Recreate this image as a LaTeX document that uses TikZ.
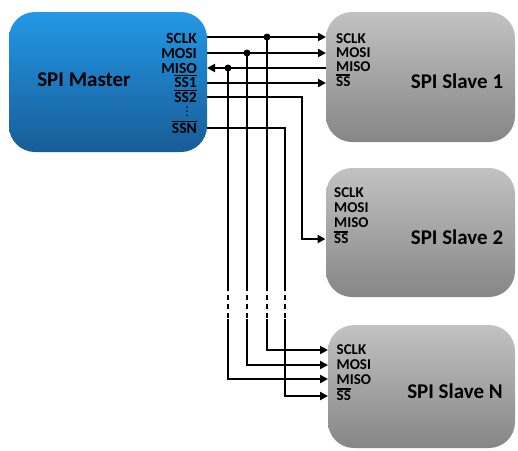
\documentclass[tikz,border=0pt]{standalone}
\usepackage{fontspec}
\setmainfont{Carlito}
\newfontfamily\dejavu{DejaVu Sans}
\usetikzlibrary{arrows.meta}
\definecolor{mtop}{RGB}{35,152,230}
\definecolor{mbot}{RGB}{24,92,150}
\definecolor{stop}{RGB}{194,194,194}
\definecolor{sbot}{RGB}{134,134,134}
\newcommand\ovl[1]{\leavevmode\vbox{\hrule height 1.2pt\kern 1.1pt\hbox{#1}}}
\tikzset{
  master/.style={draw=none,top color=mtop,bottom color=mbot,rounded corners=26pt,inner sep=0pt},
  slave/.style={draw=none,top color=stop,bottom color=sbot,rounded corners=26pt,inner sep=0pt},
  title/.style={font=\fontsize{21}{21}\selectfont\bfseries,inner sep=0pt},
  mpin/.style={anchor=east,font=\fontsize{15.5}{15.5}\selectfont\bfseries,inner sep=0pt},
  spin/.style={anchor=west,font=\fontsize{15}{15}\selectfont\bfseries,inner sep=0pt},
  wire/.style={line width=2pt},
  sig/.style={wire,-{Triangle[length=8pt,width=8pt]}},
  brk/.style={wire,dash pattern=on 5pt off 4pt},
  junc/.style={circle,fill=black,inner sep=0pt,minimum size=7pt}
}
\begin{document}
\begin{tikzpicture}[x=1pt,y=-1pt]
\useasboundingbox (0,0) rectangle (518,450);
% boxes
\node[master,minimum width=198pt,minimum height=140pt] (M) at (108,82) {};
\node[slave,minimum width=189pt,minimum height=130pt] (S1) at (420.5,77) {};
\node[slave,minimum width=189pt,minimum height=129pt] (S2) at (420.5,232.5) {};
\node[slave,minimum width=187pt,minimum height=123pt] (SN) at (421.5,386.5) {};
\node[title] (tM) at (84,80) {SPI Master};
\node[title] (tS1) at (457,81) {SPI Slave 1};
\node[title] (tS2) at (457,237) {SPI Slave 2};
\node[title] (tSN) at (455,391) {SPI Slave N};
% master pins
\node[mpin] (lSCLK) at (197,38) {SCLK};
\node[mpin] (lMOSI) at (197,53.3) {MOSI};
\node[mpin] (lMISO) at (197,68.5) {MISO};
\node[mpin,anchor=base east] (lSS1) at (197,87.5) {\ovl{SS1}};
\node[mpin,anchor=base east] (lSS2) at (197,102.3) {\ovl{SS2}};
\node[mpin,anchor=base east] (lSSN) at (197,133.5) {\ovl{SSN}};
\node[inner sep=0pt,font=\dejavu\fontsize{12}{12}\selectfont] (ldots) at (187,112) {⋮};
% slave 1 pins
\node[spin] (a1) at (336,38.5) {SCLK};
\node[spin] (a2) at (336,52.5) {MOSI};
\node[spin] (a3) at (336,67) {MISO};
\node[spin,anchor=base west] (a4) at (336,86.5) {\ovl{SS}};
% slave 2 pins
\node[spin] (b1) at (334,193) {SCLK};
\node[spin] (b2) at (334,208) {MOSI};
\node[spin] (b3) at (334,223) {MISO};
\node[spin,anchor=base west] (b4) at (334,243.5) {\ovl{SS}};
% slave N pins
\node[spin] (c1) at (336.5,350) {SCLK};
\node[spin] (c2) at (336.5,365) {MOSI};
\node[spin] (c3) at (336.5,379.3) {MISO};
\node[spin,anchor=base west] (c4) at (336.5,400.5) {\ovl{SS}};
% wire coordinates
\coordinate (mSCLK) at (207,37);
\coordinate (mMOSI) at (207,53);
\coordinate (mMISO) at (207,68);
\coordinate (mSS1) at (207,83);
\coordinate (mSS2) at (207,97);
\coordinate (mSSN) at (207,128);
\coordinate (s1SCLK) at (326,37);
\coordinate (s1MOSI) at (326,53);
\coordinate (s1MISO) at (326,68);
\coordinate (s1SS) at (326,83);
\coordinate (s2SS) at (325.5,239);
\coordinate (nSCLK) at (328,350);
\coordinate (nMOSI) at (328,365);
\coordinate (nMISO) at (328,379);
\coordinate (nSS) at (328,396);
\node[junc] (jSCLK) at (267,37) {};
\node[junc] (jMOSI) at (247,53) {};
\node[junc] (jMISO) at (228,68) {};
\coordinate (cSS2) at (302,97);
\coordinate (cSSN) at (285,128);
% break coordinates
\foreach \n/\x in {SCLK/267,MOSI/247,MISO/228,SSN/285}{
  \coordinate (u\n) at (\x,286);
  \coordinate (d\n) at (\x,319);
}
% main bus
\draw[sig] (mSCLK) -- (s1SCLK);
\draw[sig] (mMOSI) -- (s1MOSI);
\draw[sig] (s1MISO) -- (mMISO);
\draw[sig] (mSS1) -- (s1SS);
\draw[sig] (mSS2) -- (cSS2) |- (s2SS);
% verticals to slave N
\draw[wire] (jSCLK.center) -- (uSCLK);
\draw[brk] (uSCLK) -- (dSCLK);
\draw[sig] (dSCLK) |- (nSCLK);
\draw[wire] (jMOSI.center) -- (uMOSI);
\draw[brk] (uMOSI) -- (dMOSI);
\draw[sig] (dMOSI) |- (nMOSI);
\draw[wire] (jMISO.center) -- (uMISO);
\draw[brk] (uMISO) -- (dMISO);
\draw[sig] (dMISO) |- (nMISO);
\draw[wire] (mSSN) -- (cSSN) -- (uSSN);
\draw[brk] (uSSN) -- (dSSN);
\draw[sig] (dSSN) |- (nSS);
\end{tikzpicture}
\end{document}
